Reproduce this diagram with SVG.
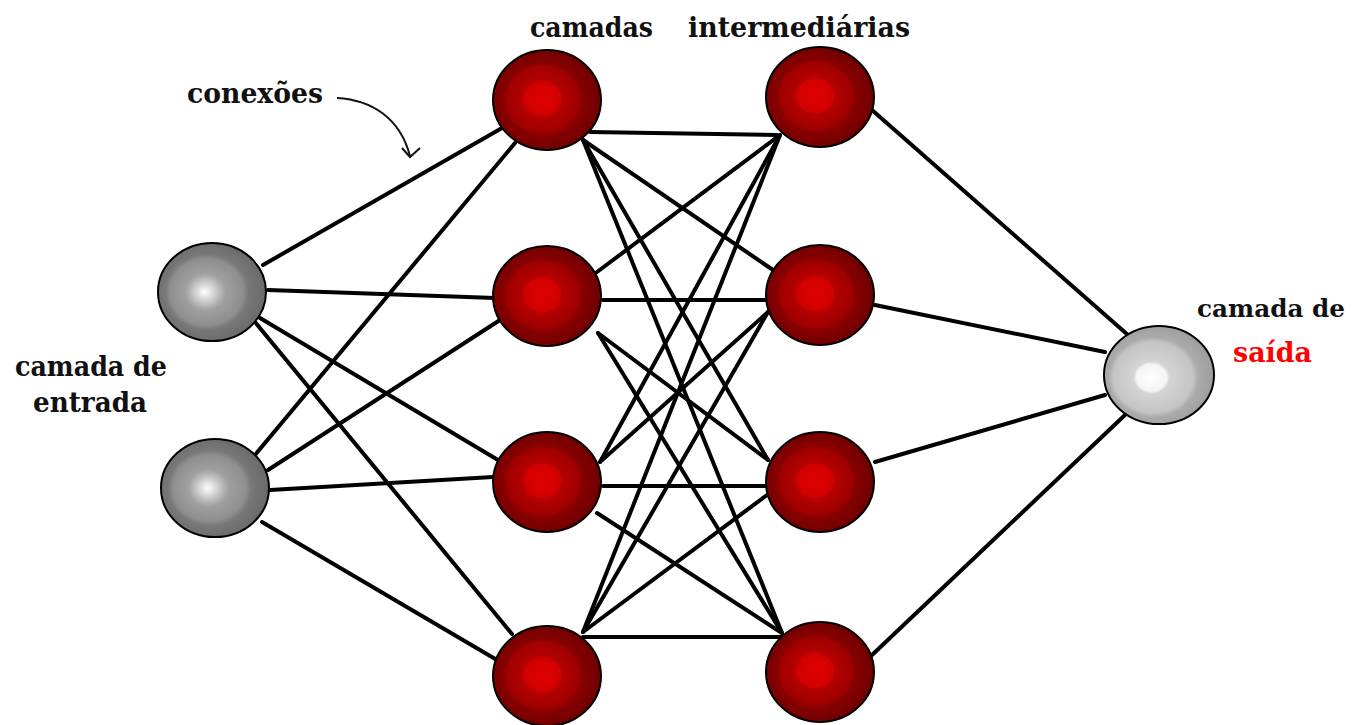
<svg xmlns="http://www.w3.org/2000/svg" width="1356" height="725" viewBox="0 0 1356 725">
<defs>
<radialGradient id="gRed" cx="0.47" cy="0.5" r="0.55" fx="0.45" fy="0.48">
<stop offset="0" stop-color="#de0000"/>
<stop offset="0.3" stop-color="#d20000"/>
<stop offset="0.34" stop-color="#b40000"/>
<stop offset="0.6" stop-color="#a00000"/>
<stop offset="0.66" stop-color="#880000"/>
<stop offset="1" stop-color="#6a0000"/>
</radialGradient>
<radialGradient id="gIn" cx="0.46" cy="0.5" r="0.55" fx="0.43" fy="0.5">
<stop offset="0" stop-color="#ffffff"/>
<stop offset="0.12" stop-color="#dcdcdc"/>
<stop offset="0.28" stop-color="#b0b0b0"/>
<stop offset="0.34" stop-color="#a0a0a0"/>
<stop offset="0.62" stop-color="#8e8e8e"/>
<stop offset="0.7" stop-color="#787878"/>
<stop offset="1" stop-color="#686868"/>
</radialGradient>
<radialGradient id="gOut" cx="0.46" cy="0.52" r="0.55" fx="0.42" fy="0.53">
<stop offset="0" stop-color="#ffffff"/>
<stop offset="0.25" stop-color="#f4f4f4"/>
<stop offset="0.3" stop-color="#d4d4d4"/>
<stop offset="0.66" stop-color="#c4c4c4"/>
<stop offset="0.74" stop-color="#ababab"/>
<stop offset="1" stop-color="#9c9c9c"/>
</radialGradient>
</defs>
<style>
.lbl{font-family:"DejaVu Serif","Liberation Serif",serif;font-weight:bold;font-size:27px;fill:#111}
.sm{font-size:24px}
.red{fill:#ff0000}
.c line{stroke:#000;stroke-width:4;stroke-linecap:round}
.n{stroke:#000;stroke-width:2}
</style>
<rect width="1356" height="725" fill="#fff"/>
<g class="c" id="connectors">
<line x1="263" y1="265" x2="502" y2="128"/>
<line x1="268" y1="290" x2="495" y2="298"/>
<line x1="260" y1="318" x2="498" y2="460"/>
<line x1="255" y1="322" x2="512" y2="634"/>
<line x1="255" y1="455" x2="515" y2="143"/>
<line x1="268" y1="470" x2="500" y2="320"/>
<line x1="270" y1="490" x2="493" y2="477"/>
<line x1="262" y1="522" x2="497" y2="660"/>
<line x1="590" y1="132" x2="777" y2="135"/>
<line x1="583" y1="140" x2="773" y2="270"/>
<line x1="583" y1="140" x2="768" y2="460"/>
<line x1="583" y1="140" x2="782" y2="633"/>
<line x1="597" y1="272" x2="780" y2="135"/>
<line x1="603" y1="300" x2="767" y2="300"/>
<line x1="598" y1="333" x2="768" y2="460"/>
<line x1="598" y1="333" x2="782" y2="633"/>
<line x1="600" y1="462" x2="780" y2="135"/>
<line x1="600" y1="462" x2="768" y2="312"/>
<line x1="603" y1="486" x2="767" y2="486"/>
<line x1="597" y1="513" x2="782" y2="633"/>
<line x1="583" y1="632" x2="780" y2="135"/>
<line x1="583" y1="632" x2="768" y2="312"/>
<line x1="583" y1="632" x2="767" y2="495"/>
<line x1="583" y1="637" x2="782" y2="637"/>
<line x1="872" y1="110" x2="1128" y2="335"/>
<line x1="875" y1="305" x2="1105" y2="352"/>
<line x1="875" y1="462" x2="1105" y2="395"/>
<line x1="872" y1="655" x2="1125" y2="415"/>
</g>
<g id="in1"><ellipse class="n" cx="212" cy="292" rx="54" ry="49" fill="url(#gIn)"/></g>
<g id="in2"><ellipse class="n" cx="215" cy="488" rx="54" ry="49" fill="url(#gIn)"/></g>
<g id="h1a"><ellipse class="n" cx="547" cy="100" rx="54" ry="50" fill="url(#gRed)"/></g>
<g id="h1b"><ellipse class="n" cx="547" cy="296" rx="54" ry="50" fill="url(#gRed)"/></g>
<g id="h1c"><ellipse class="n" cx="547" cy="482" rx="54" ry="50" fill="url(#gRed)"/></g>
<g id="h1d"><ellipse class="n" cx="547" cy="676" rx="54" ry="50" fill="url(#gRed)"/></g>
<g id="h2a"><ellipse class="n" cx="820" cy="97" rx="54" ry="50" fill="url(#gRed)"/></g>
<g id="h2b"><ellipse class="n" cx="820" cy="295" rx="54" ry="50" fill="url(#gRed)"/></g>
<g id="h2c"><ellipse class="n" cx="820" cy="482" rx="54" ry="50" fill="url(#gRed)"/></g>
<g id="h2d"><ellipse class="n" cx="820" cy="672" rx="54" ry="50" fill="url(#gRed)"/></g>
<g id="out"><ellipse class="n" cx="1159" cy="375" rx="55" ry="49" fill="url(#gOut)"/></g>
<g id="labels">
<text class="lbl" x="530" y="37" textLength="123" lengthAdjust="spacingAndGlyphs">camadas</text>
<text class="lbl" x="688" y="37" textLength="222" lengthAdjust="spacingAndGlyphs">intermediárias</text>
<text class="lbl" x="187" y="103" textLength="136" lengthAdjust="spacingAndGlyphs">conexões</text>
<text class="lbl" x="15" y="376" textLength="152" lengthAdjust="spacingAndGlyphs">camada de</text>
<text class="lbl" x="33" y="412" textLength="114" lengthAdjust="spacingAndGlyphs">entrada</text>
<text class="lbl sm" x="1197" y="317" textLength="148" lengthAdjust="spacingAndGlyphs">camada de</text>
<text class="lbl red" x="1233" y="362" textLength="79" lengthAdjust="spacingAndGlyphs">saída</text>
</g>
<g id="arrow" fill="none" stroke="#111" stroke-width="2">
<path d="M337 98 C372 100 400 118 410 156"/>
<path d="M402 148 L410 157 L420 148"/>
</g>
</svg>
